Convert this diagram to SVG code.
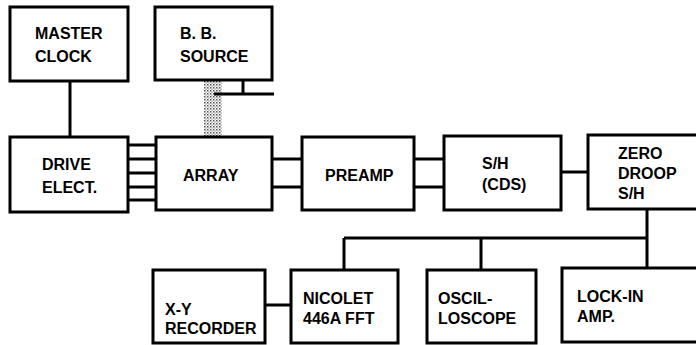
<svg xmlns="http://www.w3.org/2000/svg" width="696" height="345" viewBox="0 0 696 345">
<defs>
<pattern id="dots" width="3" height="3" patternUnits="userSpaceOnUse">
<rect width="3" height="3" fill="#fff"/>
<rect x="0" y="0" width="1.5" height="1.5" fill="#555"/>
<rect x="1.5" y="1.5" width="1.2" height="1.2" fill="#888"/>
</pattern>
</defs>
<style>
.box{fill:#fff;stroke:#000;stroke-width:3}
.ln{stroke:#000;stroke-width:3;fill:none}
text{font-family:"Liberation Sans",Arial,sans-serif;font-weight:bold;font-size:16px;fill:#000}
</style>
<rect width="696" height="345" fill="#fff"/>
<g id="connectors">
<line class="ln" x1="70" y1="81" x2="70" y2="137"/>
<rect x="204" y="80" width="18" height="57" fill="url(#dots)"/>
<line class="ln" x1="243" y1="80" x2="243" y2="94"/>
<line class="ln" x1="214" y1="94" x2="274" y2="94"/>
<line class="ln" x1="128" y1="145" x2="156" y2="145"/>
<line class="ln" x1="128" y1="159" x2="156" y2="159"/>
<line class="ln" x1="128" y1="173" x2="156" y2="173"/>
<line class="ln" x1="128" y1="187" x2="156" y2="187"/>
<line class="ln" x1="128" y1="200" x2="156" y2="200"/>
<line class="ln" x1="272" y1="159" x2="302" y2="159"/>
<line class="ln" x1="272" y1="187" x2="302" y2="187"/>
<line class="ln" x1="414" y1="159" x2="444" y2="159"/>
<line class="ln" x1="414" y1="187" x2="444" y2="187"/>
<line class="ln" x1="561" y1="172" x2="588" y2="172"/>
<line class="ln" x1="647" y1="209" x2="647" y2="269"/>
<line class="ln" x1="344" y1="238" x2="647" y2="238"/>
<line class="ln" x1="344" y1="238" x2="344" y2="269"/>
<line class="ln" x1="481" y1="238" x2="481" y2="269"/>
<line class="ln" x1="265" y1="305" x2="291" y2="305"/>
</g>
<g id="master-clock">
<rect class="box" x="10" y="7" width="118" height="74"/>
<text x="35" y="39">MASTER</text>
<text x="35" y="62">CLOCK</text>
</g>
<g id="bb-source">
<rect class="box" x="155" y="7" width="117" height="73"/>
<text x="180" y="39">B. B.</text>
<text x="180" y="62">SOURCE</text>
</g>
<g id="drive-elect">
<rect class="box" x="10" y="137" width="118" height="75"/>
<text x="42" y="170">DRIVE</text>
<text x="42" y="193">ELECT.</text>
</g>
<g id="array">
<rect class="box" x="156" y="137" width="116" height="73"/>
<text x="183" y="181">ARRAY</text>
</g>
<g id="preamp">
<rect class="box" x="302" y="137" width="112" height="73"/>
<text x="325" y="181">PREAMP</text>
</g>
<g id="sh-cds">
<rect class="box" x="444" y="136" width="117" height="74"/>
<text x="482" y="169">S/H</text>
<text x="482" y="190">(CDS)</text>
</g>
<g id="zero-droop">
<rect class="box" x="588" y="135" width="112" height="74"/>
<text x="618" y="159">ZERO</text>
<text x="618" y="179">DROOP</text>
<text x="618" y="199">S/H</text>
</g>
<g id="xy-recorder">
<rect class="box" x="153" y="270" width="112" height="73"/>
<text x="165" y="315">X-Y</text>
<text x="165" y="334">RECORDER</text>
</g>
<g id="nicolet">
<rect class="box" x="291" y="270" width="107" height="73"/>
<text x="303" y="304">NICOLET</text>
<text x="303" y="324">446A FFT</text>
</g>
<g id="oscilloscope">
<rect class="box" x="427" y="270" width="109" height="73"/>
<text x="438" y="304">OSCIL-</text>
<text x="438" y="324">LOSCOPE</text>
</g>
<g id="lock-in">
<rect class="box" x="562" y="268" width="138" height="74"/>
<text x="577" y="302">LOCK-IN</text>
<text x="577" y="322">AMP.</text>
</g>
</svg>
